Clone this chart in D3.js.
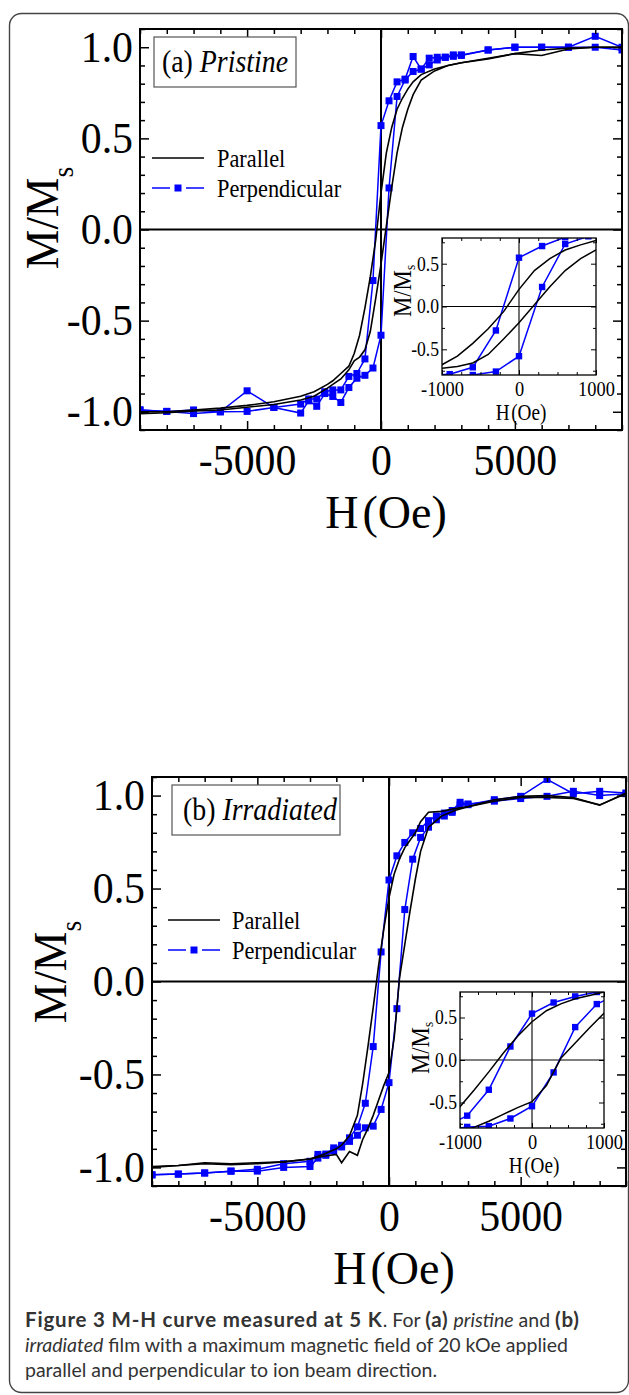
<!DOCTYPE html>
<html><head><meta charset="utf-8">
<script src="https://cdn.jsdelivr.net/npm/d3@7"></script>
<style>
body{margin:0;background:#fff;}
svg{display:block;}
</style></head><body>
<svg id="c" width="629" height="1395"></svg>
<script>
// ---------------- DATA ----------------
const fieldDomain = [-9000, 9000];
const mDomain = [-1.1, 1.1];
const insetFieldDomain = [-1000, 1000];
const insetMDomain = [-0.8, 0.8];
const mainXTicks = [-5000, 0, 5000];
const mainYTicks = [-1.0, -0.5, 0.0, 0.5, 1.0];
const insetXTicks = [-1000, 0, 1000];
const insetYTicks = [-0.5, 0.0, 0.5];
const seriesNames = ["Parallel", "Perpendicular"];

// Perpendicular: field points (Oe)
const perpH = [-9000,-8000,-7000,-6000,-5000,-4000,-3000,-2700,-2400,-2100,-1800,-1500,-1200,-900,-600,-300,0,300,600,900,1200,1500,1800,2100,2400,2700,3000,4000,5000,6000,7000,8000,9000];
// (a) pristine, perpendicular, descending branch
const perpDownA = [-0.99,-0.998,-0.99,-1.0,-0.885,-0.976,-0.958,-0.93,-0.93,-0.89,-0.88,-0.88,-0.806,-0.79,-0.71,-0.28,0.57,0.706,0.81,0.825,0.949,0.88,0.94,0.945,0.945,0.958,0.958,0.985,1.0,1.0,1.0,1.0,0.985];
// (a) pristine, perpendicular, ascending branch
const perpUpA = [-0.99,-0.998,-1.01,-1.0,-0.998,-0.976,-1.007,-0.94,-0.97,-0.90,-0.916,-0.949,-0.867,-0.816,-0.80,-0.76,-0.58,0.228,0.73,0.82,0.867,0.88,0.903,0.93,0.945,0.95,0.955,0.985,1.0,1.0,1.0,1.06,1.0];
// (b) irradiated, perpendicular, descending branch
const perpDownB = [-1.04,-1.036,-1.03,-1.02,-1.01,-0.98,-0.967,-0.93,-0.928,-0.895,-0.881,-0.841,-0.782,-0.655,-0.35,0.159,0.546,0.676,0.748,0.80,0.823,0.865,0.89,0.906,0.92,0.964,0.951,0.978,0.996,1.087,1.01,1.023,1.014];
// (b) irradiated, perpendicular, ascending branch
const perpUpB = [-1.04,-1.036,-1.03,-1.02,-1.02,-1.0,-0.995,-0.95,-0.935,-0.91,-0.89,-0.86,-0.827,-0.787,-0.778,-0.688,-0.544,-0.146,0.387,0.658,0.775,0.83,0.87,0.89,0.91,0.95,0.955,0.97,0.984,0.996,1.023,1.0,1.01];

// Parallel: field points (Oe)
const parH = [-9000,-8000,-7000,-6000,-5000,-4000,-3000,-2500,-2000,-1800,-1500,-1200,-1000,-800,-600,-400,-200,0,200,400,600,800,1000,1200,1500,2000,2500,3000,4000,5000,6000,7000,8000,9000];
const parDownA = [-1.0,-1.0,-0.99,-0.98,-0.965,-0.945,-0.915,-0.89,-0.85,-0.83,-0.79,-0.75,-0.68,-0.58,-0.43,-0.26,-0.06,0.2,0.42,0.56,0.66,0.72,0.77,0.81,0.85,0.88,0.9,0.915,0.935,0.965,0.955,0.99,1.0,1.0];
const parUpA = [-1.01,-1.005,-0.995,-0.99,-0.975,-0.96,-0.935,-0.915,-0.87,-0.85,-0.82,-0.77,-0.72,-0.70,-0.66,-0.56,-0.38,-0.19,0.02,0.23,0.42,0.56,0.66,0.74,0.82,0.87,0.9,0.915,0.94,0.965,0.985,0.995,1.0,1.0];
const parDownB = [-1.0,-0.99,-0.975,-0.98,-0.975,-0.97,-0.955,-0.93,-0.90,-0.88,-0.83,-0.72,-0.55,-0.35,-0.14,0.08,0.28,0.45,0.58,0.66,0.72,0.76,0.80,0.86,0.91,0.915,0.93,0.94,0.978,0.996,1.0,0.99,0.948,1.014];
const parUpB = [-0.995,-0.99,-0.98,-0.985,-0.98,-0.97,-0.955,-0.94,-0.93,-0.975,-0.915,-0.935,-0.85,-0.79,-0.72,-0.64,-0.56,-0.49,-0.30,0.02,0.20,0.38,0.55,0.70,0.83,0.89,0.92,0.94,0.97,0.99,0.99,0.985,0.95,1.01];

const panelTags = ["(a) ", "(b) "];
const panelNames = ["Pristine", "Irradiated"];

// ---------------- LAYOUT ----------------
const layouts = [
  {x0:140, x1:622, y0:29, y1:430,
   inset:{x0:442, x1:596, y0:238, y1:375, ylabX:411, ylabY:291},
   box:{x:154, y:37, w:142, h:50, tx:162, ty:72},
   leg:{x:152, y:158, tx:217},
   ylabX:58, ylabY:218},
  {x0:152, x1:626, y0:777, y1:1186,
   inset:{x0:460, x1:604, y0:992, y1:1128, ylabX:429, ylabY:1048},
   box:{x:172, y:785, w:168, h:50, tx:183, ty:820},
   leg:{x:168, y:920, tx:232},
   ylabX:66, ylabY:972}
];
const panelData = [
  {perpDown:perpDownA, perpUp:perpUpA, parDown:parDownA, parUp:parUpA},
  {perpDown:perpDownB, perpUp:perpUpB, parDown:parDownB, parUp:parUpB}
];

const BLUE = "#0000ff";
const SERIF = "'Liberation Serif','Times New Roman',serif";
const svg = d3.select('#c');

// outer rounded border
svg.append('rect').attr('x',9.5).attr('y',13.5).attr('width',619).attr('height',1379)
  .attr('rx',12).attr('fill','none').attr('stroke','#444').attr('stroke-width',1.4);

const fmtX = d => (d < 0 ? '-' : '') + Math.abs(d);
const fmtY = d => (d < 0 ? '-' : '') + Math.abs(d).toFixed(1);

function stext(parent, x, y, sx) {
  return parent.append('g').attr('transform', `translate(${x},${y}) scale(${sx},1)`).append('text')
    .attr('font-family', SERIF).attr('fill', '#000');
}

function axis(g, gen, transform, values, size, fmt, sw) {
  const a = g.append('g').attr('transform', transform)
    .call(gen.tickValues(values).tickSize(size).tickFormat(fmt || (() => '')));
  a.attr('font-size', null).attr('font-family', null);
  a.select('.domain').remove();
  a.selectAll('line').attr('stroke', '#000').attr('stroke-width', sw);
  return a;
}

function drawPanel(c, d, i) {
  const g = svg.append('g');
  const x = d3.scaleLinear().domain(fieldDomain).range([c.x0, c.x1]);
  const y = d3.scaleLinear().domain(mDomain).range([c.y1, c.y0]);
  const clipId = 'clipMain' + i;
  svg.append('clipPath').attr('id', clipId).append('rect')
    .attr('x', c.x0).attr('y', c.y0).attr('width', c.x1 - c.x0).attr('height', c.y1 - c.y0);

  const minorX = d3.range(-9000, 9001, 1000).filter(v => !mainXTicks.includes(v));
  const minorY = d3.range(-11, 12).map(v => +(v / 10).toFixed(1)).filter(v => !mainYTicks.includes(v));

  // zero lines
  g.append('line').attr('x1', c.x0).attr('x2', c.x1).attr('y1', y(0)).attr('y2', y(0))
    .attr('stroke', '#000').attr('stroke-width', 2);
  g.append('line').attr('x1', x(0)).attr('x2', x(0)).attr('y1', c.y0).attr('y2', c.y1)
    .attr('stroke', '#000').attr('stroke-width', 2);

  // curves
  const line = d3.line().x(p => x(p[0])).y(p => y(p[1]));
  const cg = g.append('g').attr('clip-path', `url(#${clipId})`);
  [d.perpDown, d.perpUp].forEach(arr => {
    const pts = perpH.map((h, k) => [h, arr[k]]);
    cg.append('path').attr('d', line(pts)).attr('fill', 'none').attr('stroke', BLUE).attr('stroke-width', 1.5);
    cg.selectAll(null).data(pts).join('rect')
      .attr('x', p => x(p[0]) - 3.5).attr('y', p => y(p[1]) - 3.5)
      .attr('width', 7).attr('height', 7).attr('fill', BLUE);
  });
  [d.parDown, d.parUp].forEach(arr => {
    const pts = parH.map((h, k) => [h, arr[k]]);
    cg.append('path').attr('d', line(pts)).attr('fill', 'none').attr('stroke', '#000').attr('stroke-width', 1.6);
  });

  // axes (inward ticks)
  axis(g, d3.axisBottom(x), `translate(0,${c.y1})`, minorX, -5, null, 1.5);
  axis(g, d3.axisTop(x), `translate(0,${c.y0})`, minorX, -5, null, 1.5);
  axis(g, d3.axisTop(x), `translate(0,${c.y0})`, mainXTicks, -9, null, 1.5);
  axis(g, d3.axisLeft(y), `translate(${c.x0},0)`, minorY, -5, null, 1.5);
  axis(g, d3.axisRight(y), `translate(${c.x1},0)`, minorY, -5, null, 1.5);
  axis(g, d3.axisRight(y), `translate(${c.x1},0)`, mainYTicks, -9, null, 1.5);
  const bx = axis(g, d3.axisBottom(x), `translate(0,${c.y1})`, mainXTicks, -9, fmtX, 1.5);
  bx.selectAll('text').attr('y', 45).attr('dy', 0)
    .attr('font-family', SERIF).attr('font-size', 45).attr('fill', '#000')
    .attr('transform', 'scale(0.93,1)');
  const ly = axis(g, d3.axisLeft(y), `translate(${c.x0},0)`, mainYTicks, -9, fmtY, 1.5);
  ly.selectAll('text').attr('x', -7 / 0.93).attr('dy', '0.31em')
    .attr('font-family', SERIF).attr('font-size', 45).attr('fill', '#000')
    .attr('transform', 'scale(0.93,1)');

  // frame
  g.append('rect').attr('x', c.x0).attr('y', c.y0).attr('width', c.x1 - c.x0).attr('height', c.y1 - c.y0)
    .attr('fill', 'none').attr('stroke', '#000').attr('stroke-width', 2);

  // axis titles
  const xt = g.append('text').attr('x', x(0) + 5).attr('y', c.y1 + 98).attr('text-anchor', 'middle')
    .attr('font-family', SERIF).attr('font-size', 46).attr('fill', '#000');
  xt.append('tspan').text('H');
  xt.append('tspan').attr('dx', 4).text('(Oe)');
  const yt = g.append('g').attr('transform', `translate(${c.ylabX},${c.ylabY}) rotate(-90) scale(0.95,1)`)
    .append('text').attr('text-anchor', 'middle').attr('font-family', SERIF).attr('font-size', 47).attr('fill', '#000');
  yt.append('tspan').text('M/M');
  yt.append('tspan').attr('font-size', 29).attr('dy', 15).text('s');

  // label box
  g.append('rect').attr('x', c.box.x).attr('y', c.box.y).attr('width', c.box.w).attr('height', c.box.h)
    .attr('fill', '#fff').attr('stroke', '#555').attr('stroke-width', 1.2);
  const bt = stext(g, c.box.tx, c.box.ty, 0.87).attr('font-size', 32);
  bt.append('tspan').text(panelTags[i]);
  bt.append('tspan').attr('font-style', 'italic').text(panelNames[i]);

  // legend
  const L = c.leg;
  g.append('line').attr('x1', L.x).attr('x2', L.x + 52).attr('y1', L.y).attr('y2', L.y)
    .attr('stroke', '#000').attr('stroke-width', 1.6);
  stext(g, L.tx, L.y + 9, 0.86).attr('font-size', 26).text(seriesNames[0]);
  const py = L.y + 30;
  g.append('line').attr('x1', L.x).attr('x2', L.x + 18).attr('y1', py).attr('y2', py)
    .attr('stroke', BLUE).attr('stroke-width', 1.5);
  g.append('line').attr('x1', L.x + 34).attr('x2', L.x + 52).attr('y1', py).attr('y2', py)
    .attr('stroke', BLUE).attr('stroke-width', 1.5);
  g.append('rect').attr('x', L.x + 22.5).attr('y', py - 3.5).attr('width', 7).attr('height', 7).attr('fill', BLUE);
  stext(g, L.tx, py + 9, 0.86).attr('font-size', 26).text(seriesNames[1]);

  // ---------- inset ----------
  const I = c.inset;
  const ix = d3.scaleLinear().domain(insetFieldDomain).range([I.x0, I.x1]);
  const iy = d3.scaleLinear().domain(insetMDomain).range([I.y1, I.y0]);
  const ig = svg.append('g');
  const iclip = 'clipInset' + i;
  svg.append('clipPath').attr('id', iclip).append('rect')
    .attr('x', I.x0).attr('y', I.y0).attr('width', I.x1 - I.x0).attr('height', I.y1 - I.y0);
  ig.append('rect').attr('x', I.x0).attr('y', I.y0).attr('width', I.x1 - I.x0).attr('height', I.y1 - I.y0)
    .attr('fill', '#fff');
  ig.append('line').attr('x1', I.x0).attr('x2', I.x1).attr('y1', iy(0)).attr('y2', iy(0))
    .attr('stroke', '#000').attr('stroke-width', 1.1);
  ig.append('line').attr('x1', ix(0)).attr('x2', ix(0)).attr('y1', I.y0).attr('y2', I.y1)
    .attr('stroke', '#000').attr('stroke-width', 1.1);
  const iline = d3.line().x(p => ix(p[0])).y(p => iy(p[1]));
  const icg = ig.append('g').attr('clip-path', `url(#${iclip})`);
  [d.perpDown, d.perpUp].forEach(arr => {
    const pts = perpH.map((h, k) => [h, arr[k]]);
    icg.append('path').attr('d', iline(pts)).attr('fill', 'none').attr('stroke', BLUE).attr('stroke-width', 1.5);
    icg.selectAll(null).data(pts.filter(p => Math.abs(p[0]) <= 1200)).join('rect')
      .attr('x', p => ix(p[0]) - 3.2).attr('y', p => iy(p[1]) - 3.2)
      .attr('width', 6.4).attr('height', 6.4).attr('fill', BLUE);
  });
  [d.parDown, d.parUp].forEach(arr => {
    const pts = parH.map((h, k) => [h, arr[k]]);
    icg.append('path').attr('d', iline(pts)).attr('fill', 'none').attr('stroke', '#000').attr('stroke-width', 1.5);
  });
  const iminX = d3.range(-1000, 1001, 250).filter(v => !insetXTicks.includes(v));
  const iminY = [-0.75, -0.25, 0.25, 0.75];
  axis(ig, d3.axisBottom(ix), `translate(0,${I.y1})`, iminX, -3, null, 1);
  axis(ig, d3.axisTop(ix), `translate(0,${I.y0})`, iminX, -3, null, 1);
  axis(ig, d3.axisLeft(iy), `translate(${I.x0},0)`, iminY, -3, null, 1);
  axis(ig, d3.axisRight(iy), `translate(${I.x1},0)`, iminY, -3, null, 1);
  axis(ig, d3.axisTop(ix), `translate(0,${I.y0})`, insetXTicks, -5, null, 1);
  axis(ig, d3.axisRight(iy), `translate(${I.x1},0)`, insetYTicks, -5, null, 1);
  const ibx = axis(ig, d3.axisBottom(ix), `translate(0,${I.y1})`, insetXTicks, -5, fmtX, 1);
  ibx.selectAll('text').attr('y', 21).attr('dy', 0).attr('font-family', SERIF).attr('font-size', 20).attr('fill', '#000')
    .attr('transform', 'scale(0.92,1)');
  const ily = axis(ig, d3.axisLeft(iy), `translate(${I.x0},0)`, insetYTicks, -5, fmtY, 1);
  ily.selectAll('text').attr('x', -3 / 0.88).attr('dy', '0.32em').attr('font-family', SERIF).attr('font-size', 20).attr('fill', '#000')
    .attr('transform', 'scale(0.88,1)');
  ig.append('rect').attr('x', I.x0).attr('y', I.y0).attr('width', I.x1 - I.x0).attr('height', I.y1 - I.y0)
    .attr('fill', 'none').attr('stroke', '#000').attr('stroke-width', 1.3);
  const ixt = stext(ig, (I.x0 + I.x1) / 2 + 2, I.y1 + 45, 0.8).attr('font-size', 24).attr('text-anchor', 'middle');
  ixt.append('tspan').text('H');
  ixt.append('tspan').attr('dx', 2).text('(Oe)');
  const iyt = ig.append('g').attr('transform', `translate(${I.ylabX},${I.ylabY}) rotate(-90) scale(0.88,1)`)
    .append('text').attr('text-anchor', 'middle').attr('font-family', SERIF).attr('font-size', 26).attr('fill', '#000');
  iyt.append('tspan').text('M/M');
  iyt.append('tspan').attr('font-size', 15).attr('dy', 4).text('s');
}

layouts.forEach((c, i) => drawPanel(c, panelData[i], i));

// ---------------- CAPTION ----------------
const capLines = [
  [["Figure 3 M-H curve measured at 5 K", "b"], [". For ", ""], ["(a)", "b"], [" ", ""], ["pristine", "i"], [" and ", ""], ["(b)", "b"]],
  [["irradiated", "i"], [" film with a maximum magnetic field of 20 kOe applied", ""]],
  [["parallel and perpendicular to ion beam direction.", ""]]
];
const capY = [1327, 1352, 1377];
capLines.forEach((ln, k) => {
  const t = svg.append('text').attr('x', 25).attr('y', capY[k])
    .attr('font-family', "Lato, 'Open Sans', sans-serif").attr('font-size', 19.5)
    .attr('fill', '#333');
  ln.forEach(([s, st]) => {
    const ts = t.append('tspan').text(s);
    if (st === 'b') ts.attr('font-weight', 'bold').attr('font-size', 20.5).attr('letter-spacing', 0.8);
    if (st === 'i') ts.attr('font-style', 'italic');
  });
});
</script>
</body></html>
